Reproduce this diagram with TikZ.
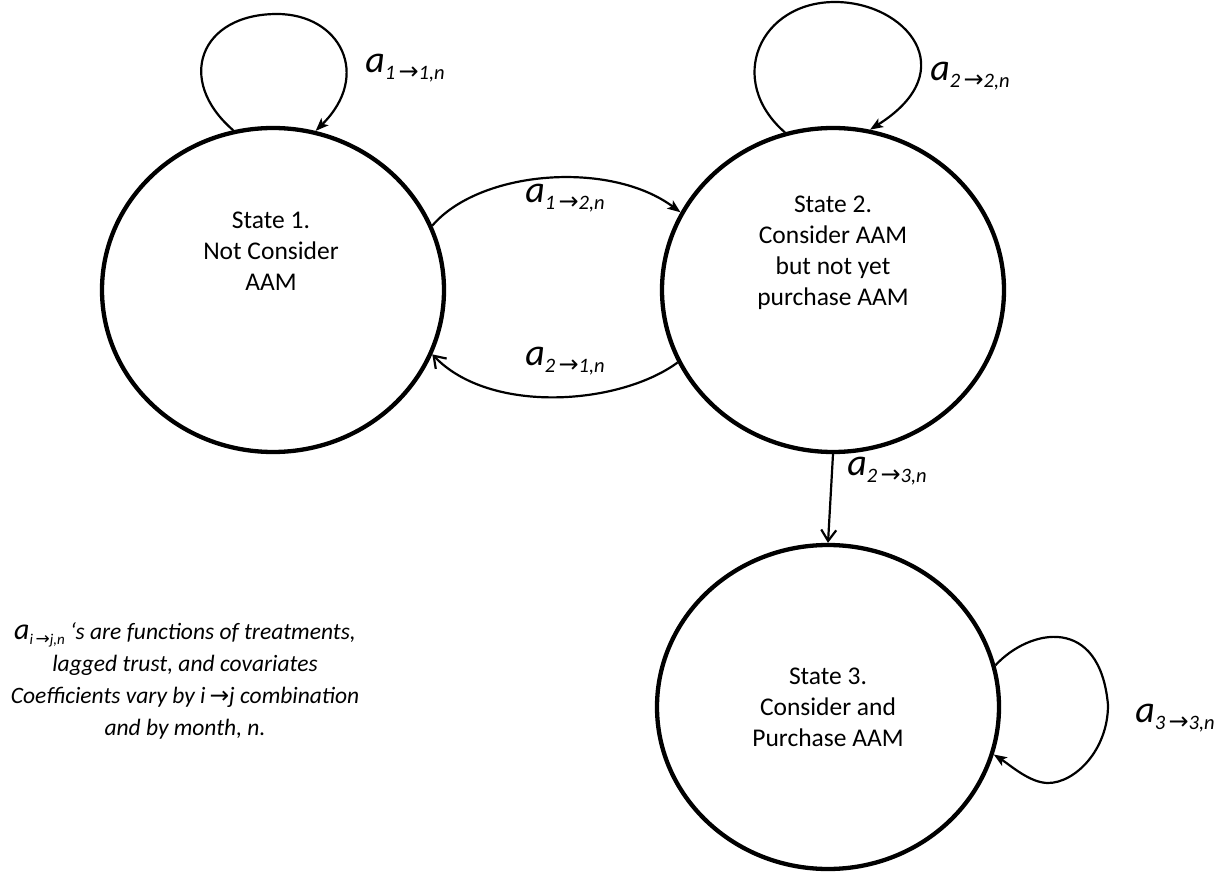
\documentclass[tikz,border=0pt]{standalone}
\usepackage{fontspec}
\setmainfont{Carlito}
\newfontfamily\arrowfont{DejaVu Sans}
\usetikzlibrary{shapes.geometric,arrows.meta}
\newcommand{\trlab}[2]{{\fontsize{38}{40}\selectfont\itshape a}\raisebox{-7pt}{\fontsize{20.5}{20}\selectfont\itshape #1\,{\arrowfont\fontsize{24}{20}\selectfont →}#2,n}}
\tikzset{
  statebox/.style={draw, ellipse, line width=4.3pt, minimum width=342pt, minimum height=324pt, inner sep=0pt},
  statetext/.style={align=center, font=\fontsize{25.5}{31}\selectfont},
  conn/.style={line width=2.2pt},
  fillhead/.style={-{Stealth[length=13pt,width=10pt,inset=3pt]}},
  openhead/.style={-{Straight Barb[length=11pt,width=15pt]}},
  lbl/.style={inner sep=0pt},
  note/.style={align=center, font=\fontsize{23.5}{32}\selectfont\itshape}
}
\begin{document}
\begin{tikzpicture}[x=1pt,y=-1pt]
\useasboundingbox (0,0) rectangle (1226,874);
\node[statebox] (s1) at (273,290) {};
\node[statebox] (s2) at (833,290) {};
\node[statebox] (s3) at (828,707) {};
\node[statetext] (t1) at (271,251) {State 1.\\Not Consider\\AAM};
\node[statetext] (t2) at (833,253) {State 2.\\Consider AAM\\but not yet\\purchase AAM};
\node[statetext] (t3) at (828,707) {State 3.\\Consider and\\Purchase AAM};
% self loops
\draw[conn,fillhead] (s1.104) .. controls (175,80) and (200,14) .. (277,14) .. controls (340,14) and (372,75) .. (s1.75);
\draw[conn,fillhead] (s2.107) .. controls (725,80) and (760,2) .. (835,2) .. controls (905,2) and (965,70) .. (s2.77);
\draw[conn,fillhead] (s3.14) .. controls (1030,628) and (1100,615) .. (1108,705) .. controls (1108,750) and (1075,783) .. (1048,783) .. controls (1030,783) and (1010,765) .. (s3.344.6);
% transitions
\draw[conn,fillhead] (s1.22.5) .. controls (480,170) and (610,160) .. (s2.153.3);
\draw[conn,openhead] (s2.205) .. controls (620,405) and (490,415) .. (s1.338.7);
\draw[conn,openhead] (s2.south) -- (s3.north);
% labels
\node[lbl] (l11) at (405,68) {\trlab{1}{1}};
\node[lbl] (l22) at (970,76) {\trlab{2}{2}};
\node[lbl] (l12) at (565,198) {\trlab{1}{2}};
\node[lbl] (l21) at (565,361) {\trlab{2}{1}};
\node[lbl] (l23) at (887,471) {\trlab{2}{3}};
\node[lbl] (l33) at (1175,718) {\trlab{3}{3}};
% note
\node[note] (nt) at (185,681) {{\fontsize{30}{30}\selectfont a}\raisebox{-5pt}{\fontsize{15}{16}\selectfont i\,{\arrowfont\fontsize{17}{16}\selectfont →}j,n} ‘s are functions of treatments,\\lagged trust, and covariates\\Coefficients vary by i\,{\arrowfont\upshape →}j combination\\and by month, n.};
\end{tikzpicture}
\end{document}
